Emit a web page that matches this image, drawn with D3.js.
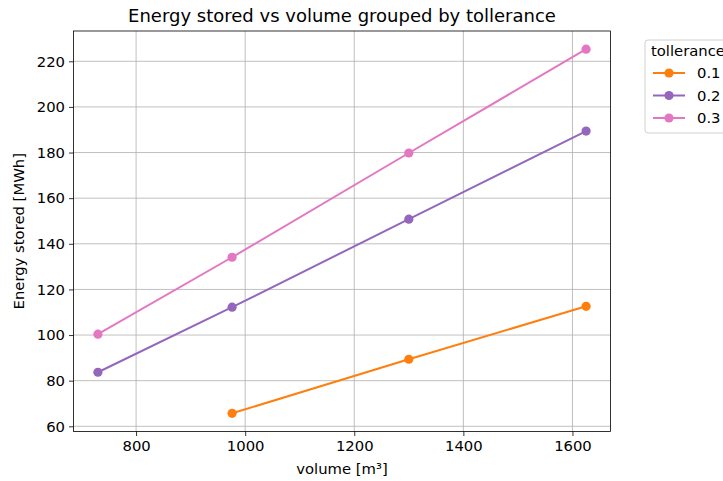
<!DOCTYPE html>
<html>
<head>
<meta charset="utf-8">
<script src="https://cdn.jsdelivr.net/npm/d3@7"></script>
<style>
  html, body { margin: 0; padding: 0; background: #fff; }
  svg text { font-family: "DejaVu Sans", sans-serif; fill: #000; }
</style>
</head>
<body>
<svg id="chart" width="723" height="481"></svg>
<script>
// Volume of each storage configuration [m³]
const volumes = [730, 976, 1300, 1625];
// Tolerance groups and their colours
const tolerances = ["0.1", "0.2", "0.3"];
const colors = ["#ff7f0e", "#9467bd", "#e377c2"];
// Energy stored [MWh] per tolerance group (null = no value for that volume)
const energy01 = [null, 65.7, 89.4, 112.6];
const energy02 = [83.7, 112.2, 150.8, 189.4];
const energy03 = [100.4, 134.1, 179.8, 225.3];
const xTicks = [800, 1000, 1200, 1400, 1600];
const yTicks = [60, 80, 100, 120, 140, 160, 180, 200, 220];

const seriesValues = [energy01, energy02, energy03];
const series = tolerances.map((t, i) => ({
  name: t,
  color: colors[i],
  points: volumes.map((v, j) => ({ x: v, y: seriesValues[i][j] })).filter(p => p.y !== null)
}));

const svg = d3.select("#chart");
const plot = { left: 73.5, right: 610.5, top: 31, bottom: 431.5 };
const labelSize = "14.8px";

// Padded domains (5% on each side)
const allX = series.flatMap(s => s.points.map(p => p.x));
const allY = series.flatMap(s => s.points.map(p => p.y));
const [x0, x1] = d3.extent(allX), [y0, y1] = d3.extent(allY);
const px = (x1 - x0) * 0.05, py = (y1 - y0) * 0.05;

const x = d3.scaleLinear().domain([x0 - px, x1 + px]).range([plot.left, plot.right]);
const y = d3.scaleLinear().domain([y0 - py, y1 + py]).range([plot.bottom, plot.top]);

// Grid
const grid = svg.append("g");
grid.selectAll("line.vx").data(xTicks).join("line")
  .attr("x1", d => x(d)).attr("x2", d => x(d))
  .attr("y1", plot.top).attr("y2", plot.bottom)
  .attr("stroke", "#b0b0b0").attr("stroke-width", 0.8);
grid.selectAll("line.hy").data(yTicks).join("line")
  .attr("x1", plot.left).attr("x2", plot.right)
  .attr("y1", d => y(d)).attr("y2", d => y(d))
  .attr("stroke", "#b0b0b0").attr("stroke-width", 0.8);

// Axes
const xAxis = d3.axisBottom(x).tickValues(xTicks).tickSize(4.5).tickPadding(4).tickFormat(d3.format("d"));
const yAxis = d3.axisLeft(y).tickValues(yTicks).tickSize(4.5).tickPadding(4).tickFormat(d3.format("d"));

const gx = svg.append("g").attr("transform", `translate(0,${plot.bottom})`).call(xAxis);
const gy = svg.append("g").attr("transform", `translate(${plot.left},0)`).call(yAxis);
[gx, gy].forEach(g => {
  g.select(".domain").remove();
  g.selectAll(".tick line").attr("stroke", "#000").attr("stroke-width", 0.8);
  g.selectAll(".tick text").attr("font-size", labelSize).attr("fill", "#000");
});

// Lines and markers
const line = d3.line().x(d => x(d.x)).y(d => y(d.y));
series.forEach(s => {
  svg.append("path").datum(s.points)
    .attr("d", line).attr("fill", "none")
    .attr("stroke", s.color).attr("stroke-width", 2);
  svg.append("g").selectAll("circle").data(s.points).join("circle")
    .attr("cx", d => x(d.x)).attr("cy", d => y(d.y)).attr("r", 4.6)
    .attr("fill", s.color);
});

// Frame
svg.append("rect")
  .attr("x", plot.left).attr("y", plot.top)
  .attr("width", plot.right - plot.left).attr("height", plot.bottom - plot.top)
  .attr("fill", "none").attr("stroke", "#000").attr("stroke-width", 0.8);

// Title and axis labels
svg.append("text").attr("x", (plot.left + plot.right) / 2).attr("y", 22)
  .attr("text-anchor", "middle").attr("font-size", "18px")
  .text("Energy stored vs volume grouped by tollerance");
svg.append("text").attr("x", (plot.left + plot.right) / 2).attr("y", 474)
  .attr("text-anchor", "middle").attr("font-size", labelSize)
  .text("volume [m³]");
svg.append("text")
  .attr("transform", `translate(24,${(plot.top + plot.bottom) / 2}) rotate(-90)`)
  .attr("text-anchor", "middle").attr("font-size", labelSize)
  .text("Energy stored [MWh]");

// Legend
const lg = svg.append("g").attr("transform", "translate(645,40)");
lg.append("rect").attr("x", 0).attr("y", 0).attr("width", 110).attr("height", 93)
  .attr("rx", 3).attr("fill", "#fff").attr("stroke", "#d0d0d0").attr("stroke-width", 1);
lg.append("text").attr("x", 6).attr("y", 16).attr("font-size", labelSize).text("tollerance");
series.forEach((s, i) => {
  const cy = 33 + i * 22.5;
  lg.append("line").attr("x1", 8).attr("x2", 40).attr("y1", cy).attr("y2", cy)
    .attr("stroke", s.color).attr("stroke-width", 2);
  lg.append("circle").attr("cx", 24).attr("cy", cy).attr("r", 4.6).attr("fill", s.color);
  lg.append("text").attr("x", 52).attr("y", cy + 5).attr("font-size", labelSize).text(s.name);
});
</script>
</body>
</html>
